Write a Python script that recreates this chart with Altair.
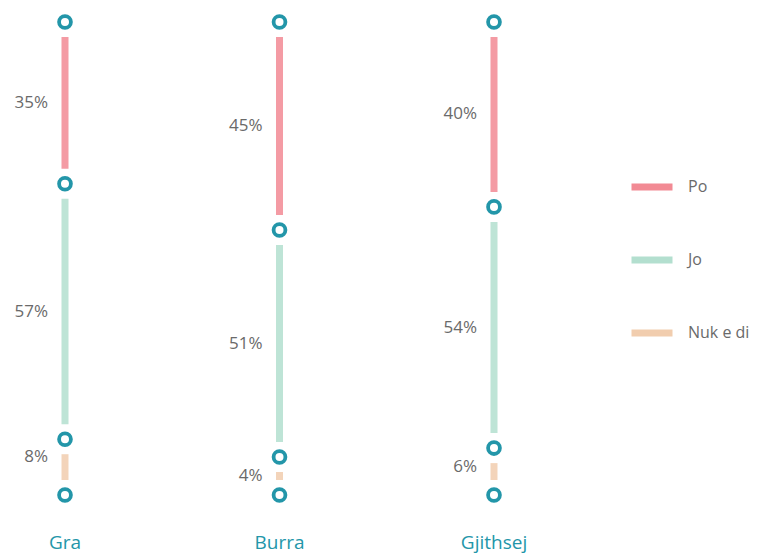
import altair as alt
import pandas as pd

categories = ["Gra", "Burra", "Gjithsej"]
series = ["Po", "Jo", "Nuk e di"]
po = [35, 45, 40]
jo = [57, 51, 54]
nuk = [8, 4, 6]

colors = ["#f28a94", "#b3dfcf", "#f1cdae"]
teal = "#2396a9"
gray = "#6a6a6a"
FONT = "Open Sans"

rows = []
points = []
for i, c in enumerate(categories):
    vals = [po[i], jo[i], nuk[i]]
    start = 0
    points.append({"cat": c, "pos": 0})
    for s, v in zip(series, vals):
        end = start + v
        rows.append({"cat": c, "series": s, "start": start, "end": end,
                     "mid": (start + end) / 2, "label": f"{v}%"})
        points.append({"cat": c, "pos": end})
        start = end

seg = pd.DataFrame(rows)
pts = pd.DataFrame(points)
cats = pd.DataFrame({"cat": categories})

x = alt.X("cat:N", sort=categories,
          scale=alt.Scale(type="point", range=[57, 486], padding=0),
          axis=None)
# piecewise scale, as in the original drawing (short segments get a bit more room)
yscale = alt.Scale(domain=[0, 45, 96, 100], range=[14, 222, 449, 487])

rules = alt.Chart(seg).mark_rule(strokeWidth=7, strokeCap="butt", opacity=0.85,
                                 yOffset=15, y2Offset=-15).encode(
    x=x,
    y=alt.Y("start:Q", scale=yscale, axis=None),
    y2="end:Q",
    color=alt.Color("series:N", sort=series,
                    scale=alt.Scale(domain=series, range=colors),
                    legend=alt.Legend(title=None, orient="none", legendX=620, legendY=155,
                                      symbolType="stroke", symbolSize=1681,
                                      symbolStrokeWidth=7, symbolOpacity=1,
                                      labelFontSize=16, labelColor=gray, labelFont=FONT,
                                      labelOffset=12, rowPadding=35, labelLimit=200)),
)

labels = alt.Chart(seg).mark_text(align="right", baseline="middle", dx=-17,
                                  fontSize=17, color=gray, font=FONT).encode(
    x=x,
    y=alt.Y("mid:Q", scale=yscale, axis=None),
    text="label:N",
)

circles = alt.Chart(pts).mark_point(shape="circle", filled=False, fill="white",
                                    fillOpacity=1, stroke=teal, strokeWidth=3.8,
                                    size=140, opacity=1).encode(
    x=x,
    y=alt.Y("pos:Q", scale=yscale, axis=None),
)

cat_labels = alt.Chart(cats).mark_text(align="center", baseline="middle",
                                       fontSize=19, color=teal, font=FONT).encode(
    x=x,
    y=alt.value(535),
    text="cat:N",
)

chart = alt.layer(rules, labels, circles, cat_labels).properties(
    width=741, height=546, padding=0,
    autosize=alt.AutoSizeParams(type="none"),
).configure_view(stroke=None)

chart.save("out.html", embed_options={"renderer": "svg", "actions": False})
